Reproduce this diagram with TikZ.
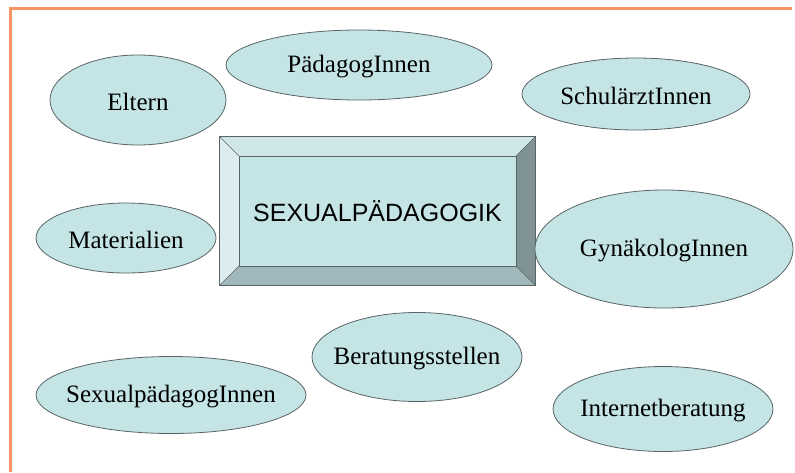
\documentclass[tikz,border=0pt]{standalone}
\usepackage{fontspec}
\setmainfont{Liberation Serif}
\newfontfamily\boxfont{Liberation Sans}
\definecolor{tafelorange}{RGB}{247,150,100}
\definecolor{tafelblau}{RGB}{196,228,230}
\definecolor{tafelrand}{RGB}{90,100,100}
\definecolor{kanteoben}{RGB}{208,231,234}
\definecolor{kantelinks}{RGB}{220,237,240}
\definecolor{kanterechts}{RGB}{127,147,149}
\definecolor{kanteunten}{RGB}{160,184,187}
\usetikzlibrary{calc,shapes.geometric}

\begin{document}
\begin{tikzpicture}[x=1pt,y=-1pt,font=\fontsize{25}{28}\selectfont,
  thema/.style={draw=tafelrand,fill=tafelblau,ellipse,inner sep=0pt,line width=0.8pt},
  every label/.style={yshift=-2pt}]
  \useasboundingbox (0,0) rectangle (795,472);
  \draw[tafelorange,line width=3pt] (792,8)--(10,8)--(10,472);
  % central box with bevel
  \node[draw=tafelrand,fill=tafelblau,minimum width=315,minimum height=148,inner sep=0pt] (sex) at (377.5,211) {};
  \fill[kanteoben] (sex.north west)--(sex.north east)--($(sex.north east)+(-19,19)$)--($(sex.north west)+(19,19)$)--cycle;
  \fill[kantelinks] (sex.north west)--($(sex.north west)+(19,19)$)--($(sex.south west)+(19,-19)$)--(sex.south west)--cycle;
  \fill[kanterechts] (sex.north east)--(sex.south east)--($(sex.south east)+(-19,-19)$)--($(sex.north east)+(-19,19)$)--cycle;
  \fill[kanteunten] (sex.south west)--(sex.south east)--($(sex.south east)+(-19,-19)$)--($(sex.south west)+(19,-19)$)--cycle;
  \draw[tafelrand,line width=0.6pt] ($(sex.north west)+(19,19)$) rectangle ($(sex.south east)+(-19,-19)$);
  \draw[tafelrand,line width=0.6pt] (sex.north west)--($(sex.north west)+(19,19)$)
    (sex.north east)--($(sex.north east)+(-19,19)$)
    (sex.south west)--($(sex.south west)+(19,-19)$)
    (sex.south east)--($(sex.south east)+(-19,-19)$);
  \draw[tafelrand,line width=0.8pt] (sex.north west) rectangle (sex.south east);
  \node[font=\boxfont\fontsize{25}{28}\selectfont] (sextext) at (sex.center) {SEXUALPÄDAGOGIK};
  % ellipses round the box
  \node[thema,minimum width=176,minimum height=90,label=center:Eltern] (eltern) at (138,100) {};
  \node[thema,minimum width=266,minimum height=70,label=center:PädagogInnen] (paed) at (359,65) {};
  \node[thema,minimum width=228,minimum height=72,label=center:SchulärztInnen] (schul) at (636,94) {};
  \node[thema,minimum width=180,minimum height=70,label=center:Materialien] (mat) at (126,238) {};
  \node[thema,minimum width=258,minimum height=118,label=center:GynäkologInnen] (gyn) at (664,249) {};
  \node[thema,minimum width=210,minimum height=89,label=center:Beratungsstellen] (berat) at (417,357) {};
  \node[thema,minimum width=270,minimum height=77,label=center:SexualpädagogInnen] (sexpaed) at (171,395) {};
  \node[thema,minimum width=220,minimum height=85,label=center:Internetberatung] (inet) at (663,409) {};
\end{tikzpicture}
\end{document}
